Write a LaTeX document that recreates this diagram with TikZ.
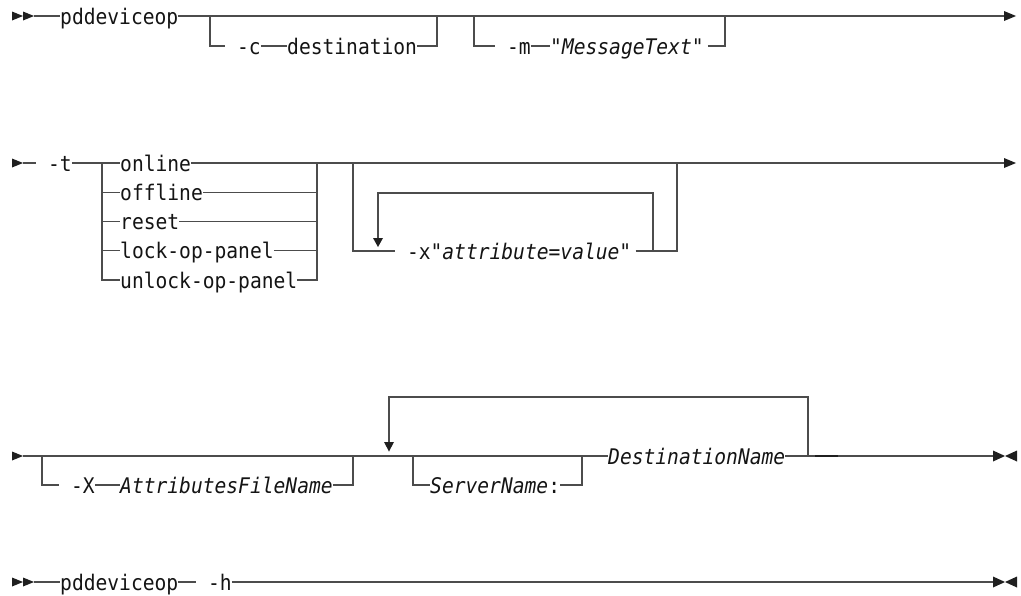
\documentclass[tikz,border=0pt]{standalone}
\usepackage{fontspec}
\setmonofont{DejaVu Sans Mono}[FakeStretch=0.912]
\newcommand\myspc{\hphantom{x}}
\tikzset{
  txt/.style={font=\ttfamily\fontsize{21.5}{24}\selectfont, text=black!92, inner sep=0pt, text height=16pt, text depth=0pt, anchor=west},
  rail/.style={draw=black!70, line width=1.2pt},
  arr/.style={fill=black!88},
}
\begin{document}
\begin{tikzpicture}[x=1pt,y=-1pt]
\useasboundingbox[fill=white] (0,0) rectangle (1021,595);
% ---------------- row 1
\fill[arr] (12,11.5) -- (23,16) -- (12,20.5) -- cycle;
\fill[arr] (23,11.5) -- (34,16) -- (23,20.5) -- cycle;
\coordinate (r1s) at (34,16);
\node[txt] (p1) at (60,16) {pddeviceop};
\coordinate (r1e) at (1004,16);
\draw[rail] (r1s) -- (p1.west);
\draw[rail] (p1.east) -- (r1e);
\fill[arr] (1004,11) -- (1016,16) -- (1004,21) -- cycle;
% -c branch
\coordinate (cL) at (210,16);
\node[txt] (c1) at (225,46) {\myspc-c};
\node[txt] (c2) at (287,46) {destination};
\coordinate (cR) at (437,16);
\draw[rail] (cL) |- (c1.west);
\draw[rail] (c1.east) -- (c2.west);
\draw[rail] (c2.east) -| (cR);
% -m branch
\coordinate (mL) at (474,16);
\node[txt] (m1) at (495,46) {\myspc-m};
\node[txt] (m2) at (550,46) {\itshape"MessageText"};
\coordinate (mR) at (725,16);
\draw[rail] (mL) |- (m1.west);
\draw[rail] (m1.east) -- (m2.west);
\draw[rail] ([xshift=4pt]m2.east) -| (mR);
% ---------------- row 2
\fill[arr] (12,158.5) -- (23,163) -- (12,167.5) -- cycle;
\coordinate (r2s) at (23,163);
\node[txt] (t) at (36,163) {\myspc-t};
\draw[rail] (r2s) -- (t.west);
\coordinate (tL) at (102,163);
\coordinate (tR) at (317,163);
\node[txt] (o1) at (120,163) {online};
\node[txt] (o2) at (120,192.3) {offline};
\node[txt] (o3) at (120,221.5) {reset};
\node[txt] (o4) at (120,250.8) {lock-op-panel};
\node[txt] (o5) at (120,280) {unlock-op-panel};
\coordinate (r2e) at (1004,163);
\draw[rail] (t.east) -- (o1.west);
\draw[rail] (o1.east) -- (r2e);
\foreach \n in {o2,o3,o4,o5}{
  \draw[rail] (tL) |- (\n.west);
  \draw[rail] (\n.east) -| (tR);
}
\fill[arr] (1004,158) -- (1016,163) -- (1004,168) -- cycle;
% repeat group -x
\coordinate (xL) at (353,163);
\coordinate (xR) at (677,163);
\node[txt] (x1) at (395,251) {\myspc-x\itshape"attribute=value"};
\draw[rail] (xL) |- (x1.west);
\draw[rail] ([xshift=4pt]x1.east) -| (xR);
\coordinate (xi) at (653,251);
\coordinate (xtop) at (378,193);
\coordinate (xa) at (378,238);
\draw[rail] (xi) |- (xtop) -- (xa);
\fill[arr] (373,238) -- (383,238) -- (378,247) -- cycle;
% ---------------- row 3
\fill[arr] (12,451.5) -- (23,456) -- (12,460.5) -- cycle;
\coordinate (r3s) at (23,456);
\coordinate (r3e) at (993,456);
\node[txt] (D) at (608,456) {\itshape DestinationName};
\draw[rail] (r3s) -- (D.west);
\draw[rail] (D.east) -- (r3e);
% -X branch
\coordinate (XL) at (42,456);
\node[txt] (X1) at (59,485) {\myspc-X};
\node[txt] (X2) at (120,485) {\itshape AttributesFileName};
\coordinate (XR) at (353,456);
\draw[rail] (XL) |- (X1.west);
\draw[rail] (X1.east) -- (X2.west);
\draw[rail] (X2.east) -| (XR);
% ServerName branch
\coordinate (SL) at (413,456);
\node[txt] (S1) at (430,485) {{\itshape ServerName}:};
\coordinate (SR) at (582,456);
\draw[rail] (SL) |- (S1.west);
\draw[rail] (S1.east) -| (SR);
% repeat loop
\coordinate (DR) at (808,456);
\coordinate (Dtop) at (389,397);
\coordinate (Da) at (389,442);
\draw[rail] (DR) |- (Dtop) -- (Da);
\fill[arr] (384,442) -- (394,442) -- (389,451.5) -- cycle;
\draw[line width=2.6pt, black!88] (815,456) -- (838,456);
\fill[arr] (993,450.5) -- (1005,456) -- (993,461.5) -- cycle;
\fill[arr] (1017,450.5) -- (1005,456) -- (1017,461.5) -- cycle;
% ---------------- row 4
\fill[arr] (12,577.5) -- (23,582) -- (12,586.5) -- cycle;
\fill[arr] (23,577.5) -- (34,582) -- (23,586.5) -- cycle;
\coordinate (r4s) at (34,582);
\node[txt] (p4) at (60,582) {pddeviceop};
\node[txt] (h) at (196,582) {\myspc-h};
\coordinate (r4e) at (993,582);
\draw[rail] (r4s) -- (p4.west);
\draw[rail] (p4.east) -- (h.west);
\draw[rail] (h.east) -- (r4e);
\fill[arr] (993,576.5) -- (1005,582) -- (993,587.5) -- cycle;
\fill[arr] (1017,576.5) -- (1005,582) -- (1017,587.5) -- cycle;
\end{tikzpicture}
\end{document}
